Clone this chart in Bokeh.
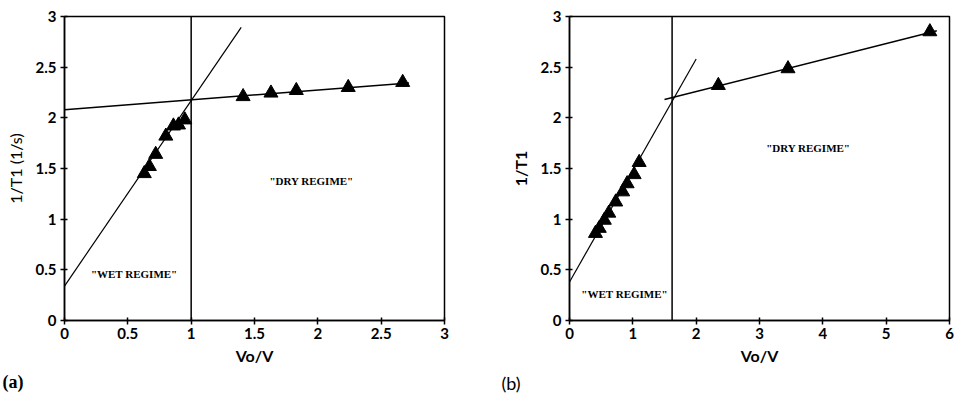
from bokeh.plotting import figure
from bokeh.layouts import row
from bokeh.models import Range1d, FixedTicker, Span, Label, Title
from bokeh.embed import file_html
from bokeh.resources import INLINE

# ---- panel (a) data ----
a_wet_x = [0.63, 0.67, 0.72, 0.80, 0.86, 0.90, 0.95]
a_wet_y = [1.45, 1.52, 1.64, 1.82, 1.92, 1.93, 1.98]
a_dry_x = [1.41, 1.63, 1.83, 2.24, 2.67]
a_dry_y = [2.21, 2.245, 2.27, 2.30, 2.35]
a_wet_fit = (1.83, 0.34)      # slope, intercept
a_dry_fit = (0.097, 2.08)
a_wet_extent = (0.0, 1.395)
a_dry_extent = (0.0, 2.72)
a_boundary = 1.0
a_xticks = [0, 0.5, 1, 1.5, 2, 2.5, 3]
a_yticks = [0, 0.5, 1, 1.5, 2, 2.5, 3]

# ---- panel (b) data ----
b_wet_x = [0.41, 0.47, 0.55, 0.62, 0.73, 0.84, 0.91, 1.02, 1.10]
b_wet_y = [0.86, 0.91, 0.99, 1.06, 1.17, 1.27, 1.35, 1.44, 1.56]
b_dry_x = [2.35, 3.45, 5.69]
b_dry_y = [2.32, 2.485, 2.85]
b_wet_fit = (1.10, 0.38)
b_dry_fit = (0.158, 1.943)
b_wet_extent = (0.0, 2.0)
b_dry_extent = (1.5, 5.8)
b_boundary = 1.62
b_xticks = [0, 1, 2, 3, 4, 5, 6]
b_yticks = [0, 0.5, 1, 1.5, 2, 2.5, 3]

TICK_FONT = "Lato"
SERIF = "Liberation Serif"


def fmt(v):
    return ("%g" % v)


def fit_line(fit, extent):
    m, c = fit
    xs = list(extent)
    return xs, [m * x + c for x in xs]


def make_panel(wet_x, wet_y, dry_x, dry_y, wet_fit, dry_fit, wet_ext, dry_ext,
               boundary, xticks, yticks, xmax, ylabel, ylabel_style, borders,
               wet_pos, dry_pos, tag, tag_offset, tag_font, tag_style):
    left, right, top, bottom = borders
    p = figure(width=479, height=403, output_backend="svg", toolbar_location=None,
               x_range=Range1d(0, xmax), y_range=Range1d(0, 3),
               min_border_left=left, min_border_right=right,
               min_border_top=top, min_border_bottom=bottom)
    p.grid.visible = False
    p.outline_line_color = "black"
    p.outline_line_width = 1.5
    p.background_fill_color = "white"
    p.border_fill_color = "white"

    for ax, ticks in ((p.xaxis[0], xticks), (p.yaxis[0], yticks)):
        ax.ticker = FixedTicker(ticks=ticks)
        ax.major_label_overrides = {t: fmt(t) for t in ticks}
        ax.minor_tick_line_color = None
        ax.major_tick_in = 3
        ax.major_tick_out = 4
        ax.axis_line_width = 1.5
        ax.major_tick_line_width = 1.5
        ax.major_label_text_font = TICK_FONT
        ax.major_label_text_font_style = "bold"
        ax.major_label_text_font_size = "15px"
        ax.major_label_text_color = "black"
        ax.axis_label_text_color = "black"

    p.xaxis.axis_label = "Vo/V"
    p.xaxis.axis_label_text_font = TICK_FONT
    p.xaxis.axis_label_text_font_style = "bold"
    p.xaxis.axis_label_text_font_size = "16px"
    p.xaxis.axis_label_standoff = 4
    p.xaxis.major_label_standoff = 3

    p.yaxis.axis_label = ylabel
    p.yaxis.axis_label_text_font = TICK_FONT
    p.yaxis.axis_label_text_font_style = ylabel_style
    p.yaxis.axis_label_text_font_size = "16px"
    p.yaxis.axis_label_standoff = 8
    p.yaxis.major_label_standoff = 4

    # fitted lines for the two regimes
    xs, ys = fit_line(wet_fit, wet_ext)
    p.line(xs, ys, line_color="black", line_width=1.2)
    xs, ys = fit_line(dry_fit, dry_ext)
    p.line(xs, ys, line_color="black", line_width=1.5)

    # regime boundary
    p.add_layout(Span(location=boundary, dimension="height",
                      line_color="black", line_width=1.5))

    # measurements
    p.scatter(wet_x, wet_y, marker="triangle", size=14,
              fill_color="black", line_color="black")
    p.scatter(dry_x, dry_y, marker="triangle", size=14,
              fill_color="black", line_color="black")

    for txt, (x, y) in (('"WET REGIME"', wet_pos), ('"DRY REGIME"', dry_pos)):
        p.add_layout(Label(x=x, y=y, text=txt, text_font=SERIF,
                           text_font_style="bold", text_font_size="11px",
                           text_align="center", text_baseline="middle",
                           text_color="black"))

    # panel tag underneath the x axis
    p.add_layout(Title(text=tag, align="left", offset=tag_offset,
                       text_font=tag_font, text_font_style=tag_style,
                       text_font_size="18px", text_color="black",
                       standoff=5), "below")
    return p


pa = make_panel(a_wet_x, a_wet_y, a_dry_x, a_dry_y, a_wet_fit, a_dry_fit,
                a_wet_extent, a_dry_extent, a_boundary, a_xticks, a_yticks, 3,
                "1/T1 (1/s)", "normal", (64, 35, 16, 80),
                (0.55, 0.46), (1.95, 1.38), "(a)", -62, SERIF, "bold")

pb = make_panel(b_wet_x, b_wet_y, b_dry_x, b_dry_y, b_wet_fit, b_dry_fit,
                b_wet_extent, b_dry_extent, b_boundary, b_xticks, b_yticks, 6,
                "1/T1", "bold", (90, 9, 13, 83),
                (0.87, 0.26), (3.77, 1.70), "(b)", -68, TICK_FONT, "normal")

layout = row(pa, pb)
open("out.html", "w").write(file_html(layout, INLINE))
